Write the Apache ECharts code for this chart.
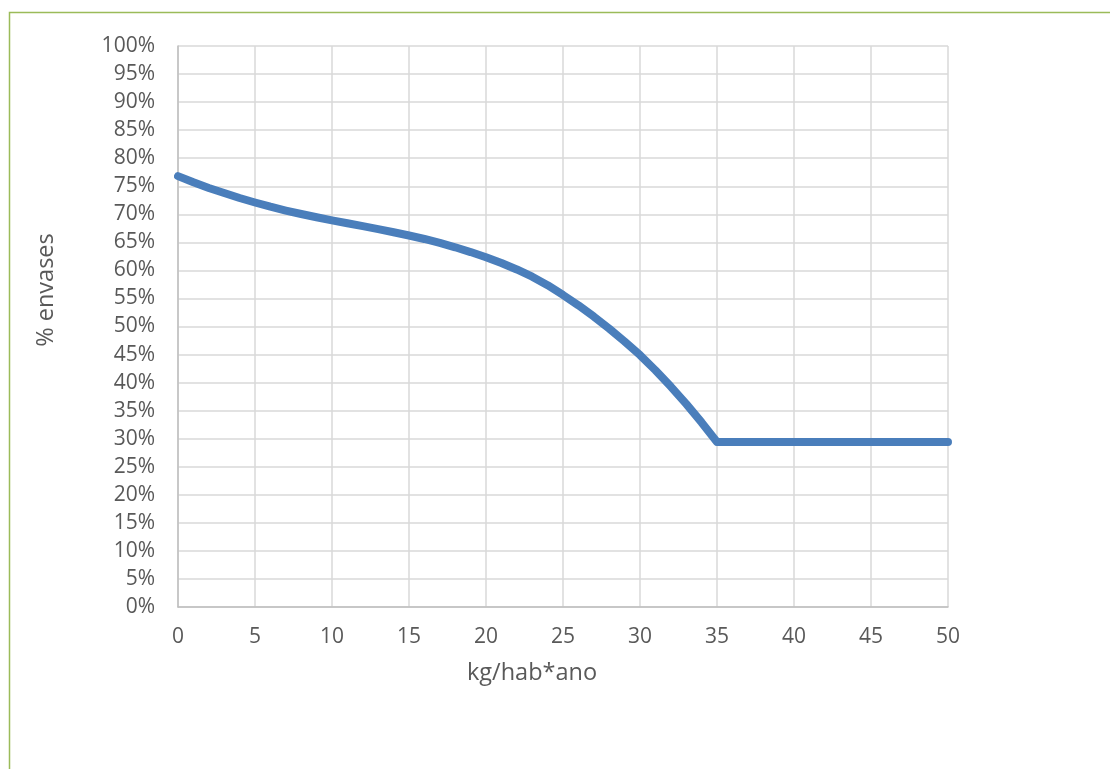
<!DOCTYPE html>
<html>
<head>
<meta charset="utf-8">
<script src="https://cdn.jsdelivr.net/npm/echarts@6/dist/echarts.min.js"></script>
<style>
html,body{margin:0;padding:0;background:#fff;}
#chart{width:1110px;height:769px;}
</style>
</head>
<body>
<div id="chart"></div>
<script>
// kg/hab*ano values (x)
var kgValues = [0,1,2,3,4,5,6,7,8,9,10,11,12,13,14,15,16,17,18,19,20,21,22,23,24,25,26,27,28,29,30,31,32,33,34,35,36,37,38,39,40,41,42,43,44,45,46,47,48,49,50];
// % envases (y)
var pctValues = [76.8,75.7,74.7,73.8,72.9,72.1,71.35,70.67,70.05,69.47,68.92,68.4,67.88,67.35,66.8,66.22,65.6,64.9,64.12,63.27,62.34,61.32,60.17,58.87,57.37,55.62,53.77,51.77,49.62,47.32,44.9,42.2,39.3,36.2,32.9,29.4,29.4,29.4,29.4,29.4,29.4,29.4,29.4,29.4,29.4,29.4,29.4,29.4,29.4,29.4,29.4];
var xTitle = 'kg/hab*ano';
var yTitle = '% envases';

var seriesData = kgValues.map(function(x, i){ return [x, pctValues[i]]; });
var FONT = '"Open Sans", "Noto Sans", sans-serif';

var chart = echarts.init(document.getElementById('chart'), null, {renderer:'canvas'});
chart.setOption({
  animation: false,
  backgroundColor: '#ffffff',
  grid: {left: 178, right: 162, top: 46, bottom: 162, containLabel: false},
  xAxis: {
    type: 'value', min: 0, max: 50, interval: 5,
    axisLine: {show: true, lineStyle: {color: '#bfbfbf', width: 1.5}},
    axisTick: {show: false},
    splitLine: {show: true, lineStyle: {color: '#d9d9d9', width: 1.5}},
    axisLabel: {color: '#595959', fontSize: 21, fontFamily: FONT, margin: 20}
  },
  yAxis: {
    type: 'value', min: 0, max: 100, interval: 5,
    axisLine: {show: true, lineStyle: {color: '#bfbfbf', width: 1.5}},
    axisTick: {show: false},
    splitLine: {show: true, lineStyle: {color: '#d9d9d9', width: 1.5}},
    axisLabel: {color: '#595959', fontSize: 21, fontFamily: FONT, margin: 23, formatter: '{value}%'}
  },
  series: [{
    type: 'line',
    data: seriesData,
    showSymbol: false,
    symbol: 'none',
    smooth: false,
    lineStyle: {color: '#4a7ebb', width: 8, cap: 'round', join: 'round'},
    itemStyle: {color: '#4a7ebb'}
  }],
  graphic: [
    {type: 'rect', left: 7, top: 10, shape: {x: 0, y: 0, width: 1200, height: 900},
     style: {fill: 'none', stroke: '#9bbb59', lineWidth: 1.5}, silent: true, z: -1},
    {type: 'text', x: 532, y: 673, style: {text: xTitle, fill: '#595959', font: '23.5px ' + FONT, textAlign: 'center', textVerticalAlign: 'middle'}},
    {type: 'text', x: 46, y: 290, rotation: Math.PI/2, style: {text: yTitle, fill: '#595959', font: '23.5px ' + FONT, textAlign: 'center', textVerticalAlign: 'middle'}}
  ]
});
</script>
</body>
</html>
